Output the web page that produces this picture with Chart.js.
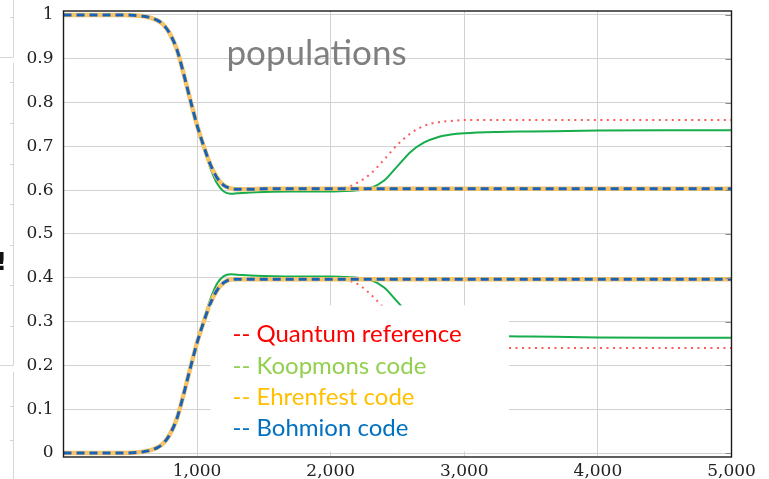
<!DOCTYPE html>
<html>
<head>
<meta charset="utf-8">
<script src="https://cdn.jsdelivr.net/npm/chart.js@4/dist/chart.umd.min.js"></script>
<style>
  html, body { margin: 0; padding: 0; background: #fff; overflow: hidden; }
  canvas { display: block; }
</style>
</head>
<body>
<canvas id="pop" width="769" height="479"></canvas>
<script>
// time grid shared by all curves
const times = [0, 400, 600, 700, 750, 800, 850, 900, 950, 1000, 1050, 1100, 1150, 1200, 1250,
  1300, 1400, 1500, 1700, 2000, 2100, 2200, 2300, 2400, 2500, 2600, 2700, 2800, 2900, 3000,
  3250, 3500, 4000, 4500, 5000];

// upper / lower state populations per method
const quantumUpper = [1, 1, 0.997, 0.988, 0.977, 0.955, 0.92, 0.865, 0.805, 0.748, 0.70, 0.658, 0.628, 0.611, 0.604,
  0.602, 0.602, 0.603, 0.603, 0.603, 0.605, 0.617, 0.638, 0.670, 0.704, 0.730, 0.747, 0.755, 0.758, 0.760,
  0.760, 0.760, 0.760, 0.760, 0.760];
const quantumLower = [0, 0, 0.003, 0.012, 0.023, 0.045, 0.08, 0.135, 0.195, 0.252, 0.30, 0.342, 0.372, 0.389, 0.396,
  0.397, 0.397, 0.397, 0.397, 0.397, 0.395, 0.386, 0.362, 0.330, 0.296, 0.270, 0.253, 0.245, 0.242, 0.240,
  0.240, 0.240, 0.240, 0.240, 0.240];

const koopmonsUpper = [1, 1, 0.997, 0.988, 0.977, 0.955, 0.92, 0.865, 0.803, 0.745, 0.695, 0.650, 0.615, 0.597, 0.592,
  0.593, 0.595, 0.596, 0.597, 0.597, 0.598, 0.600, 0.605, 0.622, 0.655, 0.688, 0.709, 0.721, 0.727, 0.730,
  0.733, 0.734, 0.736, 0.737, 0.737];
const koopmonsLower = [0, 0, 0.003, 0.012, 0.023, 0.045, 0.08, 0.135, 0.197, 0.255, 0.305, 0.352, 0.387, 0.404, 0.408,
  0.407, 0.405, 0.404, 0.403, 0.403, 0.402, 0.400, 0.395, 0.378, 0.345, 0.312, 0.291, 0.279, 0.273, 0.270,
  0.267, 0.266, 0.264, 0.263, 0.263];

const ehrenfestUpper = [1, 1, 0.997, 0.988, 0.977, 0.955, 0.92, 0.865, 0.805, 0.748, 0.70, 0.658, 0.628, 0.611, 0.604,
  0.602, 0.602, 0.603, 0.603, 0.603, 0.603, 0.603, 0.603, 0.603, 0.603, 0.603, 0.603, 0.603, 0.603, 0.603,
  0.603, 0.603, 0.603, 0.603, 0.603];
const ehrenfestLower = [0, 0, 0.003, 0.012, 0.023, 0.045, 0.08, 0.135, 0.195, 0.252, 0.30, 0.342, 0.372, 0.389, 0.396,
  0.397, 0.397, 0.397, 0.397, 0.397, 0.397, 0.397, 0.397, 0.397, 0.397, 0.397, 0.397, 0.397, 0.397, 0.397,
  0.397, 0.397, 0.397, 0.397, 0.397];

const bohmionUpper = [1, 1, 0.997, 0.988, 0.977, 0.955, 0.92, 0.865, 0.805, 0.748, 0.70, 0.658, 0.628, 0.611, 0.604,
  0.602, 0.602, 0.603, 0.603, 0.603, 0.603, 0.603, 0.603, 0.603, 0.603, 0.603, 0.603, 0.603, 0.603, 0.603,
  0.603, 0.603, 0.603, 0.603, 0.603];
const bohmionLower = [0, 0, 0.003, 0.012, 0.023, 0.045, 0.08, 0.135, 0.195, 0.252, 0.30, 0.342, 0.372, 0.389, 0.396,
  0.397, 0.397, 0.397, 0.397, 0.397, 0.397, 0.397, 0.397, 0.397, 0.397, 0.397, 0.397, 0.397, 0.397, 0.397,
  0.397, 0.397, 0.397, 0.397, 0.397];

const yTicks = [0, 0.1, 0.2, 0.3, 0.4, 0.5, 0.6, 0.7, 0.8, 0.9, 1];
const xTicks = [0, 1000, 2000, 3000, 4000, 5000];

const legendItems = [
  ['-- Quantum reference', '#ff0000'],
  ['-- Koopmons code', '#92d050'],
  ['-- Ehrenfest code', '#ffc000'],
  ['-- Bohmion code', '#0070c0']
];

function pts(values) {
  return times.map((t, i) => ({ x: t, y: values[i] }));
}

function line(values, style, order) {
  return Object.assign({
    data: pts(values),
    pointRadius: 0,
    fill: false,
    cubicInterpolationMode: 'monotone',
    order: order
  }, style);
}

const quantumStyle = { borderColor: '#ff5a5a', borderWidth: 2, borderDash: [2, 4.5] };
const koopmonsStyle = { borderColor: '#17ad4c', borderWidth: 2 };
const ehrenfestStyle = { borderColor: '#f7c46a', borderWidth: 4.5 };
const bohmionStyle = { borderColor: '#1862b8', borderWidth: 3, borderDash: [8, 5] };

// frame, inner ticks, legend box and label text
const decor = {
  id: 'decor',
  beforeDraw(chart) {
    const ctx = chart.ctx;
    ctx.save();
    ctx.fillStyle = '#fff';
    ctx.fillRect(0, 0, chart.width, chart.height);
    ctx.restore();
  },
  afterDatasetsDraw(chart) {
    const { ctx, chartArea: a, scales: { x, y } } = chart;
    ctx.save();

    // short ticks on the right edge
    ctx.strokeStyle = '#8a8a8a';
    ctx.lineWidth = 1;
    yTicks.forEach(v => {
      const py = Math.round(y.getPixelForValue(v)) + 0.5;
      ctx.beginPath();
      ctx.moveTo(a.right - 6, py);
      ctx.lineTo(a.right, py);
      ctx.stroke();
    });

    // frame
    ctx.strokeStyle = '#1a1a1a';
    ctx.lineWidth = 1.4;
    ctx.strokeRect(a.left, a.top, a.right - a.left, a.bottom - a.top);

    // legend box
    const bx = x.getPixelForValue(1100), bw = x.getPixelForValue(3335) - bx;
    const by = y.getPixelForValue(0.337), bh = y.getPixelForValue(0.004) - by;
    ctx.fillStyle = '#fff';
    ctx.fillRect(bx, by, bw, bh);

    ctx.font = '24px Lato';
    ctx.textBaseline = 'alphabetic';
    legendItems.forEach(([label, color], i) => {
      ctx.fillStyle = color;
      ctx.fillText(label, bx + 22, by + 37 + i * 31.3);
    });

    // title inside the plot
    ctx.fillStyle = '#7f7f7f';
    ctx.font = '35px Lato';
    ctx.fillText('populations', x.getPixelForValue(1220), y.getPixelForValue(0.886));

    // slide edge on the far left
    ctx.strokeStyle = '#d6d6d6';
    ctx.lineWidth = 1;
    ctx.beginPath();
    ctx.moveTo(13.5, 0); ctx.lineTo(13.5, 57.5); ctx.lineTo(0, 57.5);
    ctx.moveTo(13.5, 63); ctx.lineTo(13.5, 365.5); ctx.lineTo(0, 365.5);
    ctx.moveTo(13.5, 372); ctx.lineTo(13.5, 479);
    [17, 82, 123, 164, 204, 245, 285, 326, 406, 440].forEach(py => {
      ctx.moveTo(10, py + 0.5); ctx.lineTo(13.5, py + 0.5);
    });
    ctx.stroke();
    ctx.fillStyle = '#111';
    ctx.font = 'bold 24px "DejaVu Sans"';
    ctx.fillText('!', -4, 270);

    ctx.restore();
  }
};

new Chart(document.getElementById('pop'), {
  type: 'line',
  data: {
    datasets: [
      line(bohmionUpper, bohmionStyle, 0),
      line(bohmionLower, bohmionStyle, 0),
      line(ehrenfestUpper, ehrenfestStyle, 1),
      line(ehrenfestLower, ehrenfestStyle, 1),
      line(koopmonsUpper, koopmonsStyle, 2),
      line(koopmonsLower, koopmonsStyle, 2),
      line(quantumUpper, quantumStyle, 3),
      line(quantumLower, quantumStyle, 3)
    ]
  },
  options: {
    responsive: false,
    animation: false,
    events: [],
    layout: { padding: { top: 11, right: 37.5, left: 0, bottom: 0 } },
    plugins: { legend: { display: false }, tooltip: { enabled: false } },
    scales: {
      x: {
        type: 'linear',
        min: 0,
        max: 5000,
        afterBuildTicks: s => { s.ticks = xTicks.map(v => ({ value: v })); },
        afterFit: s => { s.height = 22; s.paddingLeft = 0; s.paddingRight = 0; },
        grid: { color: '#d2d2d2', lineWidth: 1, tickLength: 0 },
        border: { display: false },
        ticks: {
          padding: 4,
          color: '#222',
          font: { family: '"DejaVu Serif"', size: 17 },
          maxRotation: 0,
          callback: v => v === 0 ? '' : v.toLocaleString('en-US')
        }
      },
      y: {
        min: -0.009,
        max: 1.009,
        afterBuildTicks: s => { s.ticks = yTicks.map(v => ({ value: v })); },
        afterFit: s => { s.width = 63.5; s.paddingTop = 0; s.paddingBottom = 0; },
        grid: { color: '#d2d2d2', lineWidth: 1, tickLength: 0 },
        border: { display: false },
        ticks: {
          padding: 10,
          color: '#222',
          font: { family: '"DejaVu Serif"', size: 17 },
          callback: v => String(+v.toFixed(1))
        }
      }
    }
  },
  plugins: [decor]
});
</script>
</body>
</html>
